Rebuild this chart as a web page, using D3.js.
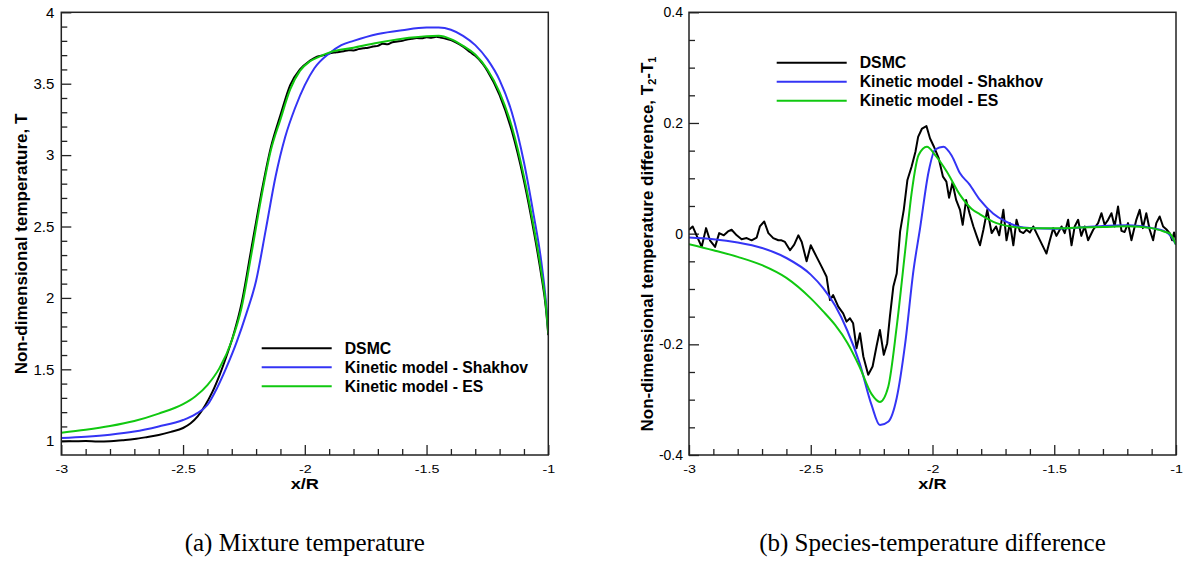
<!DOCTYPE html>
<html><head><meta charset="utf-8">
<script src="https://cdn.jsdelivr.net/npm/d3@7"></script>
<style>body{margin:0;background:#fff}svg{display:block}</style>
</head><body>
<svg id="c" width="1193" height="565"></svg>
<script>
// ---------- data ----------
const xTicks = [-3, -2.5, -2, -1.5, -1];
const xMinorTicks = [-2.9,-2.8,-2.7,-2.6,-2.4,-2.3,-2.2,-2.1,-1.9,-1.8,-1.7,-1.6,-1.4,-1.3,-1.2,-1.1];
const tTicks = [1, 1.5, 2, 2.5, 3, 3.5, 4];
const tMinorTicks = [1.1,1.2,1.3,1.4,1.6,1.7,1.8,1.9,2.1,2.2,2.3,2.4,2.6,2.7,2.8,2.9,3.1,3.2,3.3,3.4,3.6,3.7,3.8,3.9];
const dTicks = [-0.4, -0.2, 0, 0.2, 0.4];
const dMinorTicks = [-0.35,-0.3,-0.25,-0.15,-0.1,-0.05,0.05,0.1,0.15,0.25,0.3,0.35];
const seriesNames = ["DSMC", "Kinetic model - Shakhov", "Kinetic model - ES"];
const seriesColors = ["#000000", "#3434f5", "#10c810"];

// (a) mixture temperature [x/R, T]
const tempDSMC = [[-3.0,0.995],[-2.95,0.996],[-2.9,0.998],[-2.85,0.995],[-2.8,0.997],[-2.75,1.004],[-2.7,1.012],[-2.65,1.025],[-2.6,1.04],[-2.55,1.062],[-2.5,1.089],[-2.47,1.12],[-2.44,1.17],[-2.41,1.245],[-2.38,1.34],[-2.35,1.46],[-2.32,1.60],[-2.29,1.76],[-2.26,1.96],[-2.22,2.34],[-2.18,2.72],[-2.14,3.05],[-2.1,3.28],[-2.06,3.49],[-2.02,3.60],[-1.98,3.66],[-1.95,3.69],[-1.92,3.70],[-1.9,3.712],[-1.87,3.72],[-1.84,3.728],[-1.82,3.735],[-1.8,3.733],[-1.78,3.742],[-1.76,3.748],[-1.74,3.752],[-1.72,3.76],[-1.7,3.765],[-1.68,3.78],[-1.66,3.776],[-1.64,3.79],[-1.62,3.795],[-1.6,3.80],[-1.58,3.81],[-1.56,3.815],[-1.54,3.82],[-1.52,3.818],[-1.5,3.826],[-1.48,3.822],[-1.46,3.828],[-1.44,3.822],[-1.42,3.815],[-1.4,3.805],[-1.38,3.79],[-1.35,3.76],[-1.32,3.72],[-1.3,3.695],[-1.27,3.64],[-1.25,3.59],[-1.2,3.42],[-1.15,3.17],[-1.1,2.82],[-1.06,2.47],[-1.03,2.17],[-1.01,1.93],[-1.0,1.74]];
const tempShakhov = [[-3.0,1.019],[-2.9,1.028],[-2.8,1.042],[-2.7,1.064],[-2.6,1.10],[-2.5,1.145],[-2.45,1.185],[-2.4,1.25],[-2.36,1.37],[-2.32,1.52],[-2.28,1.69],[-2.24,1.89],[-2.2,2.12],[-2.16,2.48],[-2.12,2.85],[-2.08,3.13],[-2.04,3.33],[-2.0,3.49],[-1.96,3.61],[-1.9,3.712],[-1.85,3.77],[-1.8,3.80],[-1.7,3.848],[-1.6,3.875],[-1.5,3.893],[-1.45,3.893],[-1.4,3.878],[-1.35,3.835],[-1.3,3.77],[-1.25,3.67],[-1.2,3.525],[-1.15,3.30],[-1.1,2.95],[-1.06,2.58],[-1.03,2.27],[-1.01,1.98],[-1.0,1.78]];
const tempES = [[-3.0,1.056],[-2.9,1.077],[-2.8,1.103],[-2.7,1.138],[-2.6,1.19],[-2.5,1.256],[-2.45,1.31],[-2.4,1.39],[-2.35,1.51],[-2.3,1.70],[-2.26,1.93],[-2.22,2.30],[-2.18,2.69],[-2.14,3.03],[-2.1,3.25],[-2.06,3.46],[-2.02,3.59],[-1.98,3.655],[-1.94,3.69],[-1.9,3.718],[-1.8,3.752],[-1.7,3.787],[-1.6,3.815],[-1.5,3.832],[-1.45,3.835],[-1.4,3.812],[-1.35,3.765],[-1.3,3.705],[-1.25,3.6],[-1.2,3.44],[-1.15,3.2],[-1.1,2.85],[-1.06,2.50],[-1.03,2.2],[-1.01,1.95],[-1.0,1.75]];

// (b) species-temperature difference [x/R, T2-T1]
const diffDSMC = [[-3.0,0.007],[-2.985,0.013],[-2.969,-0.003],[-2.948,-0.024],[-2.93,0.010],[-2.914,-0.012],[-2.893,-0.024],[-2.876,0.001],[-2.857,-0.003],[-2.84,0.004],[-2.825,0.007],[-2.804,-0.003],[-2.784,-0.010],[-2.763,-0.008],[-2.743,-0.012],[-2.722,-0.007],[-2.709,0.013],[-2.691,0.022],[-2.674,0.001],[-2.654,-0.008],[-2.633,-0.012],[-2.62,-0.012],[-2.606,-0.015],[-2.585,-0.03],[-2.568,-0.02],[-2.551,-0.003],[-2.537,-0.015],[-2.517,-0.05],[-2.5,-0.021],[-2.476,-0.042],[-2.455,-0.06],[-2.435,-0.078],[-2.421,-0.12],[-2.408,-0.111],[-2.387,-0.132],[-2.367,-0.144],[-2.353,-0.159],[-2.339,-0.153],[-2.326,-0.162],[-2.312,-0.207],[-2.298,-0.18],[-2.284,-0.222],[-2.264,-0.255],[-2.246,-0.24],[-2.23,-0.204],[-2.216,-0.174],[-2.2,-0.219],[-2.186,-0.198],[-2.175,-0.15],[-2.161,-0.096],[-2.147,-0.072],[-2.133,0.004],[-2.118,0.043],[-2.103,0.097],[-2.086,0.121],[-2.07,0.148],[-2.059,0.175],[-2.043,0.19],[-2.025,0.1945],[-2.01,0.172],[-1.995,0.158],[-1.975,0.137],[-1.957,0.103],[-1.943,0.094],[-1.932,0.065],[-1.918,0.092],[-1.903,0.061],[-1.887,0.043],[-1.876,0.016],[-1.862,0.061],[-1.848,0.037],[-1.832,0.013],[-1.818,-0.005],[-1.805,-0.021],[-1.791,0.007],[-1.775,0.043],[-1.757,0.001],[-1.739,0.013],[-1.726,-0.003],[-1.709,0.043],[-1.696,-0.012],[-1.682,0.019],[-1.668,-0.021],[-1.655,0.025],[-1.641,0.004],[-1.627,0.001],[-1.614,0.007],[-1.6,0.002],[-1.586,0.013],[-1.573,0.001],[-1.552,-0.018],[-1.532,-0.036],[-1.518,-0.012],[-1.504,0.01],[-1.491,-0.004],[-1.47,0.013],[-1.457,0.001],[-1.443,0.025],[-1.429,-0.021],[-1.416,0.013],[-1.402,0.025],[-1.389,-0.004],[-1.375,0.013],[-1.361,-0.012],[-1.34,0.007],[-1.32,0.019],[-1.306,0.037],[-1.293,0.016],[-1.279,0.025],[-1.265,0.037],[-1.252,0.013],[-1.238,0.049],[-1.224,0.005],[-1.211,0.003],[-1.197,0.019],[-1.183,-0.012],[-1.163,0.025],[-1.149,0.043],[-1.136,0.01],[-1.122,0.037],[-1.108,0.007],[-1.094,-0.012],[-1.081,0.019],[-1.067,0.031],[-1.053,0.013],[-1.04,0.008],[-1.026,0.001],[-1.016,-0.012],[-1.008,0.002],[-1.0,-0.012]];
const diffShakhov = [[-3.0,-0.007],[-2.9,-0.01],[-2.8,-0.016],[-2.7,-0.026],[-2.6,-0.044],[-2.5,-0.074],[-2.45,-0.098],[-2.4,-0.13],[-2.35,-0.175],[-2.3,-0.233],[-2.25,-0.31],[-2.216,-0.346],[-2.182,-0.34],[-2.147,-0.297],[-2.112,-0.198],[-2.078,-0.066],[-2.051,0.01],[-2.016,0.112],[-1.989,0.152],[-1.955,0.157],[-1.92,0.14],[-1.887,0.109],[-1.85,0.09],[-1.805,0.061],[-1.75,0.036],[-1.7,0.022],[-1.65,0.013],[-1.6,0.01],[-1.5,0.009],[-1.4,0.011],[-1.3,0.014],[-1.2,0.015],[-1.15,0.014],[-1.1,0.01],[-1.05,0.005],[-1.02,-0.005],[-1.0,-0.02]];
const diffES = [[-3.0,-0.019],[-2.9,-0.03],[-2.8,-0.042],[-2.7,-0.057],[-2.6,-0.08],[-2.5,-0.117],[-2.45,-0.14],[-2.4,-0.165],[-2.35,-0.197],[-2.3,-0.24],[-2.25,-0.29],[-2.216,-0.304],[-2.182,-0.277],[-2.147,-0.168],[-2.112,-0.03],[-2.085,0.076],[-2.057,0.142],[-2.023,0.157],[-1.989,0.142],[-1.941,0.112],[-1.887,0.07],[-1.84,0.045],[-1.805,0.035],[-1.737,0.019],[-1.65,0.011],[-1.6,0.0096],[-1.5,0.0096],[-1.4,0.011],[-1.3,0.012],[-1.2,0.0135],[-1.1,0.01],[-1.05,0.004],[-1.025,0],[-1.0,-0.02]];

// ---------- drawing ----------
const svg = d3.select("#c");
const SANS = "'Liberation Sans', Arial, Helvetica, sans-serif";
const SERIF = "'Liberation Serif', 'Times New Roman', serif";
const fmt = d => String(d);

function panel(cfg) {
  const x = d3.scaleLinear().domain([-3, -1]).range([cfg.left, cfg.right]);
  const y = d3.scaleLinear().domain(cfg.yDomain).range([cfg.bottom, cfg.top]);
  const g = svg.append("g");
  const clipId = "clip" + cfg.id;
  g.append("clipPath").attr("id", clipId).append("rect")
    .attr("x", cfg.left).attr("y", cfg.top)
    .attr("width", cfg.right - cfg.left).attr("height", cfg.bottom - cfg.top);

  // minor ticks
  g.append("g").attr("transform", `translate(0,${cfg.bottom})`)
    .call(d3.axisBottom(x).tickValues(xMinorTicks).tickSizeInner(-6).tickSizeOuter(0).tickFormat(""))
    .call(a => a.select(".domain").remove());
  g.append("g").attr("transform", `translate(${cfg.left},0)`)
    .call(d3.axisLeft(y).tickValues(cfg.yMinor).tickSizeInner(-6).tickSizeOuter(0).tickFormat(""))
    .call(a => a.select(".domain").remove());
  // major ticks
  const xa = g.append("g").attr("transform", `translate(0,${cfg.bottom})`)
    .call(d3.axisBottom(x).tickValues(xTicks).tickSizeInner(-10).tickSizeOuter(0).tickPadding(10).tickFormat(fmt));
  xa.select(".domain").remove();
  xa.selectAll("text").attr("font-size", 11).attr("font-family", SANS).attr("fill", "#000")
    .attr("transform", "scale(1.3,1)");
  const ya = g.append("g").attr("transform", `translate(${cfg.left},0)`)
    .call(d3.axisLeft(y).tickValues(cfg.yTicks).tickSizeInner(-10).tickSizeOuter(0).tickPadding(cfg.yPad).tickFormat(fmt));
  ya.select(".domain").remove();
  ya.selectAll("text").attr("font-size", cfg.yFont).attr("font-family", SANS).attr("fill", "#000");
  g.selectAll(".tick line").attr("stroke", "#222").attr("stroke-width", 1.3);

  // series
  const lines = g.append("g").attr("clip-path", `url(#${clipId})`);
  cfg.series.forEach((s, i) => {
    const line = d3.line().x(d => x(d[0])).y(d => y(d[1]))
      .curve(s.linear ? d3.curveLinear : d3.curveMonotoneX);
    lines.append("path").datum(s.data).attr("d", line)
      .attr("fill", "none").attr("stroke", seriesColors[i])
      .attr("stroke-width", 2).attr("stroke-linejoin", "round");
  });

  // frame
  g.append("rect").attr("x", cfg.left).attr("y", cfg.top)
    .attr("width", cfg.right - cfg.left).attr("height", cfg.bottom - cfg.top)
    .attr("fill", "none").attr("stroke", "#222").attr("stroke-width", 1.5);

  // legend
  const lg = g.append("g");
  seriesNames.forEach((n, i) => {
    const yy = cfg.legY + i * 19;
    lg.append("line").attr("x1", cfg.legX).attr("x2", cfg.legX + 70)
      .attr("y1", yy).attr("y2", yy).attr("stroke", seriesColors[i]).attr("stroke-width", 2);
    lg.append("text").attr("x", cfg.legX + 83).attr("y", yy + 5.5)
      .attr("font-family", SANS).attr("font-weight", "bold").attr("font-size", 15.8)
      .attr("fill", "#000").text(n);
  });

  // axis titles
  const cx = (cfg.left + cfg.right) / 2;
  g.append("text").attr("transform", `translate(${cx},489) scale(1.3,1)`)
    .attr("text-anchor", "middle").attr("font-family", SANS).attr("font-weight", "bold")
    .attr("font-size", 14).attr("fill", "#000").text("x/R");
  const yt = g.append("text").attr("transform", `translate(${cfg.yLabelX},244) rotate(-90)`)
    .attr("text-anchor", "middle").attr("font-family", SANS).attr("font-weight", "bold")
    .attr("font-size", 17).attr("fill", "#000");
  cfg.yLabel.forEach(p => {
    const t = yt.append("tspan").text(p.t);
    if (p.sub) t.attr("font-size", 11).attr("baseline-shift", "-25%");
  });

  // caption
  g.append("text").attr("x", cx).attr("y", 551).attr("text-anchor", "middle")
    .attr("font-family", SERIF).attr("font-size", 25).attr("fill", "#000").text(cfg.caption);
}

panel({
  id: "a", left: 61.3, right: 548.3, top: 12.3, bottom: 455,
  yDomain: [0.9, 4], yTicks: tTicks, yMinor: tMinorTicks, yFont: 15, yPad: 7,
  series: [{data: tempDSMC}, {data: tempShakhov}, {data: tempES}],
  legX: 261.7, legY: 348.3, yLabelX: 27,
  yLabel: [{t: "Non-dimensional temperature, T"}],
  caption: "(a) Mixture temperature"
});
panel({
  id: "b", left: 689, right: 1176, top: 12.3, bottom: 455,
  yDomain: [-0.4, 0.4], yTicks: dTicks, yMinor: dMinorTicks, yFont: 14, yPad: 6,
  series: [{data: diffDSMC, linear: true}, {data: diffShakhov}, {data: diffES}],
  legX: 776.7, legY: 62.7, yLabelX: 653,
  yLabel: [{t: "Non-dimensional temperature difference, T"}, {t: "2", sub: true}, {t: "-T"}, {t: "1", sub: true}],
  caption: "(b) Species-temperature difference"
});
</script>
</body></html>
